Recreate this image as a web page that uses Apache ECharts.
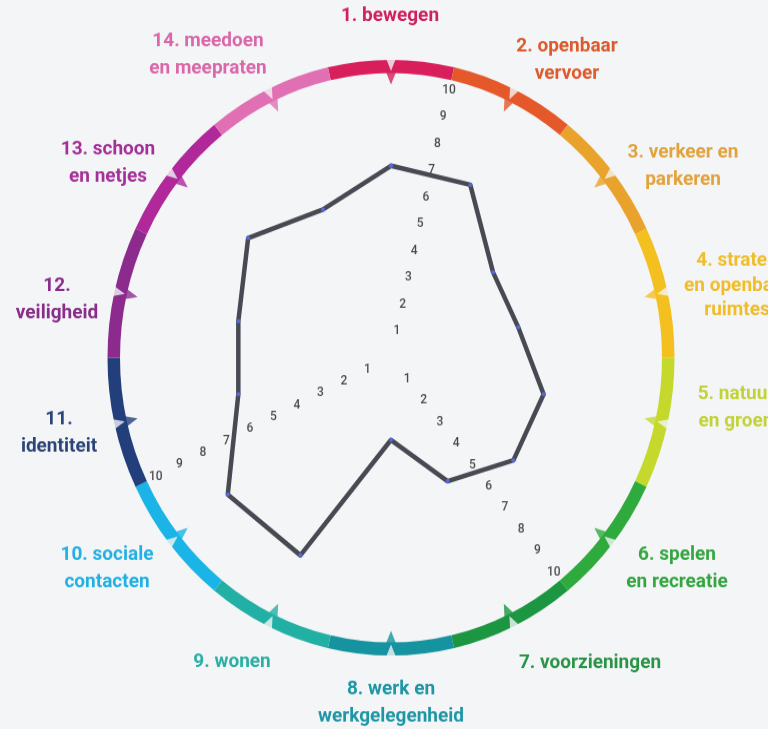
<!DOCTYPE html>
<html>
<head>
<meta charset="utf-8">
<script src="https://cdn.jsdelivr.net/npm/echarts@6/dist/echarts.min.js"></script>
<style>
  html,body{margin:0;padding:0;background:#f3f5f7;overflow:hidden;height:729px}
  /* the scan is slightly taller than wide, so stretch the drawing a touch */
  #chart{width:768px;height:712px;transform:scaleY(1.0504);transform-origin:0 0}
</style>
</head>
<body>
<div id="chart"></div>
<script>
var THEMES = [
  '1. bewegen', '2. openbaar\nvervoer', '3. verkeer en\nparkeren', '4. straten\nen openbare\nruimtes',
  '5. natuur\nen groen', '6. spelen\nen recreatie', '7. voorzieningen', '8. werk en\nwerkgelegenheid',
  '9. wonen', '10. sociale\ncontacten', '11.\nidentiteit', '12.\nveiligheid',
  '13. schoon\nen netjes', '14. meedoen\nen meepraten'
];
var SCORES = [7, 7, 5, 5, 6, 6, 5, 3, 8, 8, 6, 6, 7, 6];
var SCALE_TICKS = [1, 2, 3, 4, 5, 6, 7, 8, 9, 10];
var COLORS = [
  '#d81e5b', '#e4582a', '#e9a22b', '#f4c020', '#c5d92c', '#2faa3c', '#1c9640',
  '#15939f', '#22b0a5', '#1ab4e6', '#223f7b', '#8c2a8e', '#b0289a', '#e070b3'
];
var LABEL_COLORS = [
  '#d0215c', '#dc5a2c', '#e2a23c', '#f0bd28', '#c3d337', '#34a640', '#2a9446',
  '#1d96a5', '#2aafa5', '#22b0e2', '#2b4478', '#8a2c8a', '#a52f98', '#db66aa'
];

// layout (pixels before the vertical stretch)
var BG = '#f3f5f7';
var CX = 391, CY = 340.5, UNIT = 26.1;      // UNIT = pixels per score point
var RING = [271, 283.5];
var N = THEMES.length, STEP = 360 / N;
// the 1..10 scales run along three segment borders
var SCALE_DIRS = [0.5, 5.5, 9.5];
// label block centres, one per theme
var LABEL_POS = [
  [390, 15], [567, 57], [683, 158], [737, 272], [736, 388], [677, 541], [590, 631],
  [391, 669], [232, 630], [107, 541], [59, 412], [57, 285], [108, 155], [208, 52]
];

var chart = echarts.init(document.getElementById('chart'), null, {renderer: 'canvas'});

function ang(k){ return k * STEP; }

var spikes = THEMES.map(function(t, k){
  return { value: [266 / UNIT, ang(k)], symbolRotate: -(ang(k) + 180), itemStyle: { color: COLORS[k] } };
});
var cuts = THEMES.map(function(t, k){
  return { value: [279 / UNIT, ang(k)], symbolRotate: -(ang(k) + 180) };
});

var outline = SCORES.map(function(s, k){ return [s, ang(k)]; });
outline.push([SCORES[0], 360]);

var scaleMarks = [];
SCALE_DIRS.forEach(function(d){
  SCALE_TICKS.forEach(function(v){ scaleMarks.push([v, d * STEP]); });
});

var labels = THEMES.map(function(t, k){
  var three = t.split('\n').length === 3;
  return {
    type: 'text', x: LABEL_POS[k][0], y: LABEL_POS[k][1], silent: true,
    style: {
      text: t, align: 'center', verticalAlign: 'middle',
      fontFamily: 'Roboto', fontSize: 19, fontWeight: 'bold',
      lineHeight: three ? 23.5 : 26, fill: LABEL_COLORS[k]
    }
  };
});

chart.setOption({
  backgroundColor: BG,
  animation: false,
  polar: { center: [CX, CY], radius: 11 * UNIT },
  angleAxis: { type: 'value', min: 0, max: 360, startAngle: 90, clockwise: true, show: false },
  radiusAxis: { type: 'value', min: 0, max: 11, show: false },
  graphic: labels,
  series: [
    {
      type: 'pie', center: [CX, CY], radius: RING, startAngle: 90 + STEP / 2, clockwise: true,
      silent: true, label: { show: false }, labelLine: { show: false },
      itemStyle: { borderWidth: 0 },
      data: THEMES.map(function(t, k){ return { name: t, value: 1, itemStyle: { color: COLORS[k] } }; }),
      z: 1
    },
    {
      type: 'scatter', coordinateSystem: 'polar', symbol: 'triangle', symbolSize: [10, 12],
      silent: true, data: spikes, z: 2
    },
    {
      type: 'scatter', coordinateSystem: 'polar', symbol: 'triangle', symbolSize: [10, 12],
      silent: true, itemStyle: { color: BG }, data: cuts, z: 3
    },
    {
      type: 'scatter', coordinateSystem: 'polar', symbolSize: 1, silent: true,
      itemStyle: { color: 'rgba(0,0,0,0)' },
      label: {
        show: true, position: 'inside', color: '#1f1f1f', fontFamily: 'Roboto',
        fontSize: 12, fontWeight: 500,
        formatter: function(p){ return p.value[0]; }
      },
      data: scaleMarks, z: 4
    },
    {
      type: 'line', coordinateSystem: 'polar', data: outline, smooth: false,
      lineStyle: { color: '#474a52', width: 4.5, cap: 'round', join: 'round' },
      symbol: 'circle', symbolSize: 4, showSymbol: true,
      itemStyle: { color: '#5a67d8', borderWidth: 0 },
      silent: true, z: 5
    }
  ]
});

window.addEventListener('resize', function(){ chart.resize(); });
</script>
</body>
</html>
